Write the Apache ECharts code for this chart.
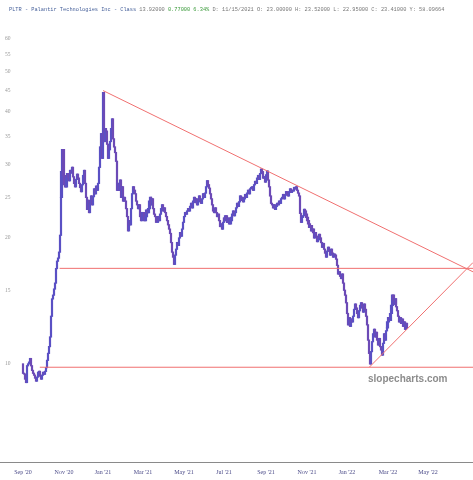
<!DOCTYPE html>
<html>
<head>
<meta charset="utf-8">
<script src="https://cdn.jsdelivr.net/npm/echarts@6/dist/echarts.min.js"></script>
<style>
  html, body { margin: 0; padding: 0; background: #fff; }
  #chart { width: 473px; height: 480px; }
</style>
</head>
<body>
<div id="chart"></div>
<script>
// PLTR daily closes, Sep 30 2020 .. Apr 18 2022 (x = trading day index)
const firstOpen = 10.0;
const sep20 = [9.50];
const oct20 = [9.46, 9.20, 9.03, 9.90, 10.00, 10.10, 10.30, 9.90, 9.65, 9.50, 9.40, 9.25, 9.10, 9.30, 9.55, 9.60, 9.35, 9.20, 9.40, 9.55, 9.45, 9.60];
const nov20 = [9.80, 10.20, 10.60, 11.00, 11.60, 13.00, 14.30, 14.60, 15.10, 15.60, 16.90, 17.60, 17.90, 18.50, 20.30, 25.00, 28.80, 32.50, 28.20, 26.80];
const dec20 = [26.5, 27.8, 28.5, 28.0, 27.4, 29.0, 28.6, 29.5, 28.0, 27.0, 26.5, 27.6, 28.4, 27.8, 27.0, 26.4, 25.8, 26.8, 28.2, 29.0, 27.0, 25.0];
const jan21 = [23.4, 24.6, 23.0, 24.2, 25.2, 24.0, 25.1, 26.2, 25.5, 26.6, 26.0, 27.0, 29.5, 33.0, 35.5, 31.0, 44.5, 34.0, 36.5];
const feb21 = [36.0, 33.5, 31.0, 32.5, 34.0, 36.5, 38.5, 34.5, 33.0, 32.0, 30.5, 26.0, 27.0, 26.0, 27.5, 25.0, 26.5, 24.5, 25.0];
const mar21 = [24.5, 23.5, 22.5, 20.8, 22.0, 21.5, 23.5, 25.5, 26.5, 26.0, 25.5, 24.5, 24.0, 23.5, 24.0, 22.5, 22.0, 23.0, 22.5, 23.0, 22.0, 22.5, 23.3];
const apr21 = [23.0, 23.5, 24.5, 25.0, 24.0, 24.8, 23.5, 22.8, 22.5, 21.8, 21.8, 22.5, 22.0, 22.8, 23.5, 24.0, 23.2, 23.6, 23.0, 22.5, 22.0];
const may21 = [21.5, 21.0, 20.5, 19.5, 18.5, 18.0, 17.3, 18.2, 18.8, 19.5, 19.2, 20.0, 20.6, 20.2, 21.0, 21.8, 22.5, 23.0, 22.8, 23.2];
const jun21 = [23.5, 23.2, 23.8, 24.2, 23.6, 24.5, 25.0, 24.3, 24.8, 24.0, 24.4, 25.2, 24.6, 24.2, 24.8, 25.5, 25.0, 25.6, 26.5, 27.4, 26.8, 26.3];
const jul21 = [25.5, 24.8, 24.0, 23.2, 23.0, 23.6, 23.0, 22.5, 22.8, 22.0, 21.3, 21.6, 21.0, 21.8, 22.3, 22.0, 22.6, 22.2, 21.8, 22.3, 21.6];
const aug21 = [22.0, 22.4, 22.8, 23.2, 22.6, 23.0, 23.6, 24.2, 23.8, 24.4, 25.2, 24.6, 25.0, 24.4, 24.8, 25.4, 25.0, 25.6, 26.0, 25.5, 26.2, 26.4];
const sep21 = [26.5, 26.0, 26.8, 27.3, 27.0, 27.8, 28.2, 27.6, 28.5, 29.2, 28.8, 27.8, 28.0, 27.2, 28.3, 28.9, 27.5, 26.5, 25.2, 24.2, 24.0];
const oct21 = [23.6, 24.0, 23.4, 23.8, 24.2, 24.0, 24.5, 24.2, 24.8, 25.0, 25.4, 24.8, 25.3, 25.8, 25.5, 25.2, 25.8, 26.2, 25.7, 26.0, 25.9];
const nov21 = [26.4, 26.2, 26.5, 26.0, 25.6, 25.2, 22.9, 21.8, 22.4, 22.6, 23.41, 23.2, 22.8, 22.4, 22.0, 21.6, 21.2, 21.4, 20.8, 21.0, 20.6];
const dec21 = [20.0, 20.6, 20.2, 19.6, 19.8, 20.4, 20.0, 19.5, 19.0, 19.4, 18.8, 18.4, 18.0, 18.6, 19.0, 18.6, 18.2, 18.8, 18.4, 18.0, 18.3, 18.2];
const jan22 = [17.8, 17.2, 16.4, 16.6, 16.2, 16.0, 16.4, 15.6, 15.0, 14.6, 14.0, 13.2, 12.4, 12.9, 12.3, 12.8, 12.6, 13.0, 13.5, 13.9];
const feb22 = [13.6, 13.2, 12.9, 13.4, 13.8, 14.0, 13.6, 13.3, 13.9, 13.5, 13.0, 12.4, 11.4, 10.6, 10.0, 10.7, 11.3, 11.8, 12.1];
const mar22 = [11.6, 11.9, 11.4, 11.1, 11.5, 11.0, 10.8, 10.5, 11.2, 11.8, 11.4, 12.0, 12.2, 12.6, 12.9, 12.7, 13.2, 13.8, 14.6, 14.2, 13.9, 14.3, 13.7];
const apr22 = [13.4, 13.0, 12.6, 12.9, 12.5, 12.8, 12.3, 12.6, 12.1, 12.5, 12.2];

const closes = [].concat(sep20, oct20, nov20, dec20, jan21, feb21, mar21, apr21, may21,
  jun21, jul21, aug21, sep21, oct21, nov21, dec21, jan22, feb22, mar22, apr22);

// axis ticks
const priceTicks = [10, 15, 20, 25, 30, 35, 40, 45, 50, 55, 60];
const monthTickIdx = [0, 41.5, 81, 121.5, 163, 203.5, 246, 287.5, 328, 369.5, 410];
const monthLabels = ["Sep '20", "Nov '20", "Jan '21", "Mar '21", "May '21", "Jul '21",
  "Sep '21", "Nov '21", "Jan '22", "Mar '22", "May '22"];

// trend lines: [day index, price]
const trendDown = [[81, 45.0], [455.5, 16.6]];
const trendUp = [[350.5, 9.82], [455.5, 17.47]];
const resistance = [[37, 16.92], [455.5, 16.92]];
const support = [[17, 9.82], [455.5, 9.82]];

const ln = Math.log;

const candles = closes.map((c, i) => {
  const o = i ? closes[i - 1] : firstOpen;
  return [i, ln(o), ln(c), ln(Math.min(o, c)), ln(Math.max(o, c))];
});

const toLog = pts => pts.map(p => [p[0], ln(p[1])]);

function trendSeries(pts) {
  return {
    type: 'line',
    data: toLog(pts),
    symbol: 'none',
    silent: true,
    lineStyle: { color: '#f07070', width: 1 },
    z: 5
  };
}

const chart = echarts.init(document.getElementById('chart'));

chart.setOption({
  animation: false,
  backgroundColor: '#fff',
  title: {
    left: 4,
    top: 2,
    text: '{a|PLTR - Palantir Technologies Inc - Class} {b|13.92000} {c|0.77000 6.34%} ' +
      '{b|D: 11/15/2021 O: 23.00000 H: 23.52000 L: 22.95000 C: 23.41000 Y: 58.09664}',
    textStyle: {
      fontSize: 5.3,
      fontFamily: 'Liberation Mono',
      fontWeight: 'normal',
      rich: {
        a: { color: '#46609a', fontSize: 5.3, fontFamily: 'Liberation Mono' },
        b: { color: '#777', fontSize: 5.3, fontFamily: 'Liberation Mono' },
        c: { color: '#3a9a3a', fontSize: 5.3, fontFamily: 'Liberation Mono' }
      }
    }
  },
  grid: { left: 0, right: 0, top: 30, bottom: 18 },
  xAxis: {
    type: 'value',
    min: -23.3,
    max: 455.5,
    splitLine: { show: false },
    axisTick: { show: false },
    axisLine: { show: true, onZero: false, lineStyle: { color: '#8a8a8a', width: 1 } },
    axisLabel: {
      customValues: monthTickIdx,
      formatter: v => monthLabels[monthTickIdx.indexOf(v)] || '',
      color: '#4a4a88',
      fontFamily: 'Liberation Serif',
      fontSize: 6,
      margin: 7
    }
  },
  yAxis: {
    type: 'value',
    min: ln(5.83),
    max: ln(62.8),
    splitLine: { show: false },
    axisTick: { show: false },
    axisLine: { show: false },
    axisLabel: {
      inside: true,
      customValues: priceTicks.map(ln),
      formatter: v => String(Math.round(Math.exp(v))),
      color: '#999',
      fontFamily: 'Liberation Serif',
      fontSize: 5.5,
      margin: 5
    }
  },
  series: [
    {
      type: 'candlestick',
      data: candles,
      encode: { x: 0, y: [1, 2, 3, 4] },
      barWidth: 1.6,
      itemStyle: {
        color: '#5a50c4',
        color0: '#6c4ab6',
        borderColor: '#5a50c4',
        borderColor0: '#6c4ab6',
        borderWidth: 1.2
      },
      z: 3
    },
    trendSeries(trendDown),
    trendSeries(trendUp),
    trendSeries(resistance),
    trendSeries(support)
  ],
  graphic: [
    {
      type: 'text',
      left: 368,
      top: 374,
      style: {
        text: 'slopecharts.com',
        font: 'bold 10px "Liberation Sans"',
        fill: '#8c8c8c'
      }
    }
  ]
});
</script>
</body>
</html>
